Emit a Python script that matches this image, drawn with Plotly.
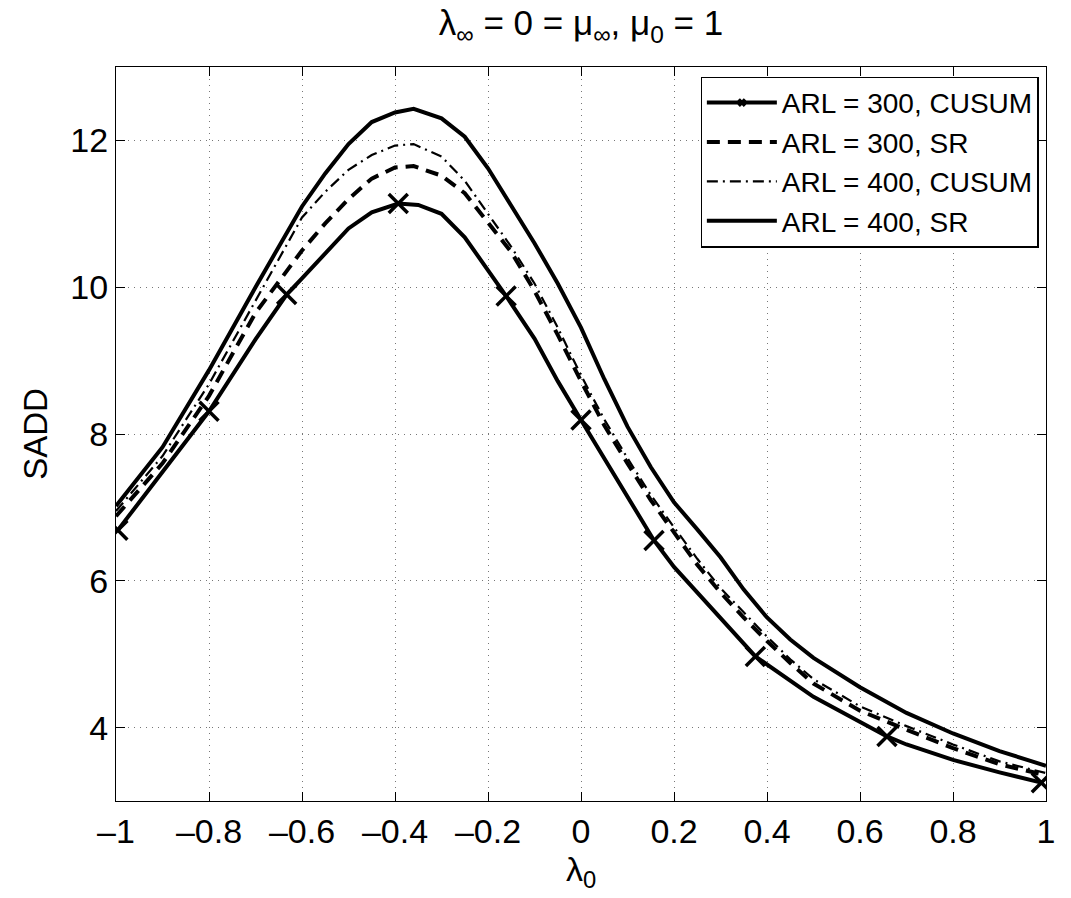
import plotly.graph_objects as go

# ---------------- data ----------------
# ARL = 300, CUSUM (solid, x markers)
cusum300_x = [-0.996, -0.9, -0.8, -0.7, -0.633, -0.6, -0.5, -0.45, -0.393, -0.35, -0.3, -0.25,
              -0.2, -0.161, -0.1, -0.05, 0.0, 0.05, 0.1, 0.157, 0.2, 0.3, 0.375, 0.5, 0.6,
              0.658, 0.7, 0.8, 0.9, 0.99]
cusum300_y = [6.69, 7.48, 8.31, 9.29, 9.90, 10.12, 10.80, 11.02, 11.14, 11.12, 11.00, 10.68,
              10.23, 9.88, 9.30, 8.72, 8.19, 7.66, 7.13, 6.55, 6.19, 5.50, 4.97, 4.42, 4.08,
              3.88, 3.77, 3.56, 3.39, 3.25]
cusum300_mark = [1, 0, 1, 0, 1, 0, 0, 0, 1, 0, 0, 0,
                 0, 1, 0, 0, 1, 0, 0, 1, 0, 0, 1, 0, 0,
                 1, 0, 0, 0, 1]

lam_x = [-1.0, -0.9, -0.8, -0.7, -0.6, -0.55, -0.5, -0.45, -0.4, -0.36, -0.3, -0.25, -0.2,
         -0.15, -0.1, -0.05, 0.0, 0.05, 0.1, 0.15, 0.2, 0.25, 0.3, 0.35, 0.4, 0.45, 0.5,
         0.6, 0.7, 0.8, 0.9, 1.0]

# ARL = 300, SR (dashed)
sr300_y = [6.88, 7.60, 8.52, 9.65, 10.50, 10.87, 11.20, 11.48, 11.63, 11.65, 11.52, 11.28, 10.88,
           10.48, 9.95, 9.35, 8.72, 8.12, 7.60, 7.10, 6.66, 6.22, 5.84, 5.50, 5.18, 4.88, 4.60,
           4.23, 3.97, 3.72, 3.50, 3.35]
# ARL = 400, CUSUM (dash-dot)
cusum400_y = [6.95, 7.70, 8.68, 9.82, 10.95, 11.30, 11.60, 11.80, 11.93, 11.95, 11.78, 11.45, 11.00,
              10.55, 10.05, 9.45, 8.80, 8.20, 7.67, 7.17, 6.73, 6.30, 5.90, 5.57, 5.24, 4.93, 4.66,
              4.29, 4.02, 3.77, 3.54, 3.38]
# ARL = 400, SR (solid)
sr400_y = [7.02, 7.82, 8.87, 10.00, 11.10, 11.55, 11.95, 12.25, 12.38, 12.43, 12.30, 12.05, 11.62,
           11.12, 10.60, 10.05, 9.45, 8.75, 8.10, 7.55, 7.07, 6.70, 6.32, 5.88, 5.50, 5.20, 4.95,
           4.55, 4.20, 3.92, 3.68, 3.48]

x_ticks = [-1, -0.8, -0.6, -0.4, -0.2, 0, 0.2, 0.4, 0.6, 0.8, 1]
x_ticktext = ["–1", "–0.8", "–0.6", "–0.4", "–0.2", "0", "0.2", "0.4", "0.6", "0.8", "1"]
y_ticks = [4, 6, 8, 10, 12]

# ---------------- figure ----------------
FONT = "Liberation Sans, Arial, Helvetica, sans-serif"
fig = go.Figure()

fig.add_trace(go.Scatter(
    x=cusum300_x, y=cusum300_y, mode="lines+markers", name="ARL = 300, CUSUM",
    line=dict(color="black", width=4),
    marker=dict(symbol="x-thin", size=[19 if m else 0 for m in cusum300_mark], opacity=1,
                color="black", line=dict(color="black", width=3.5)),
))
fig.add_trace(go.Scatter(
    x=lam_x, y=sr300_y, mode="lines", name="ARL = 300, SR",
    line=dict(color="black", width=4, dash="13px,8px"),
))
fig.add_trace(go.Scatter(
    x=lam_x, y=cusum400_y, mode="lines", name="ARL = 400, CUSUM",
    line=dict(color="black", width=2.2, dash="11px,5px,2px,5px"),
))
fig.add_trace(go.Scatter(
    x=lam_x, y=sr400_y, mode="lines", name="ARL = 400, SR",
    line=dict(color="black", width=4),
))

axis_common = dict(
    showline=True, linecolor="black", linewidth=1.3, mirror="ticks",
    ticks="inside", ticklen=9, tickwidth=1, tickcolor="black",
    showgrid=True, gridcolor="#777777", griddash="1px,5px", gridwidth=1,
    zeroline=False,
    tickfont=dict(family=FONT, size=34, color="black"),
)

fig.update_xaxes(
    range=[-1, 1], tickvals=x_ticks, ticktext=x_ticktext, **axis_common,
    title=dict(text="λ<sub>0</sub>", font=dict(family=FONT, size=34, color="black"), standoff=0),
)
fig.update_yaxes(
    range=[3, 13], tickvals=y_ticks, **axis_common,
    title=dict(text="SADD", font=dict(family=FONT, size=33, color="black"), standoff=12),
)

fig.update_layout(
    width=1071, height=898,
    margin=dict(l=116, r=25, t=67, b=97),
    paper_bgcolor="white", plot_bgcolor="white",
    font=dict(family=FONT, color="black"),
    title=dict(
        text="λ<sub>∞</sub> = 0 = μ<sub>∞</sub>, μ<sub>0</sub> = 1",
        x=(116 + 1046) / 2 / 1071, xanchor="center", y=0.988, yanchor="top",
        font=dict(family=FONT, size=35, color="black"),
    ),
    legend=dict(
        x=0.992, xanchor="right", y=0.987, yanchor="top",
        bgcolor="white", bordercolor="black", borderwidth=1.3,
        font=dict(family=FONT, size=28, color="black"),
        itemwidth=70, tracegroupgap=0,
    ),
    showlegend=True,
)

fig.write_html("out.html")
